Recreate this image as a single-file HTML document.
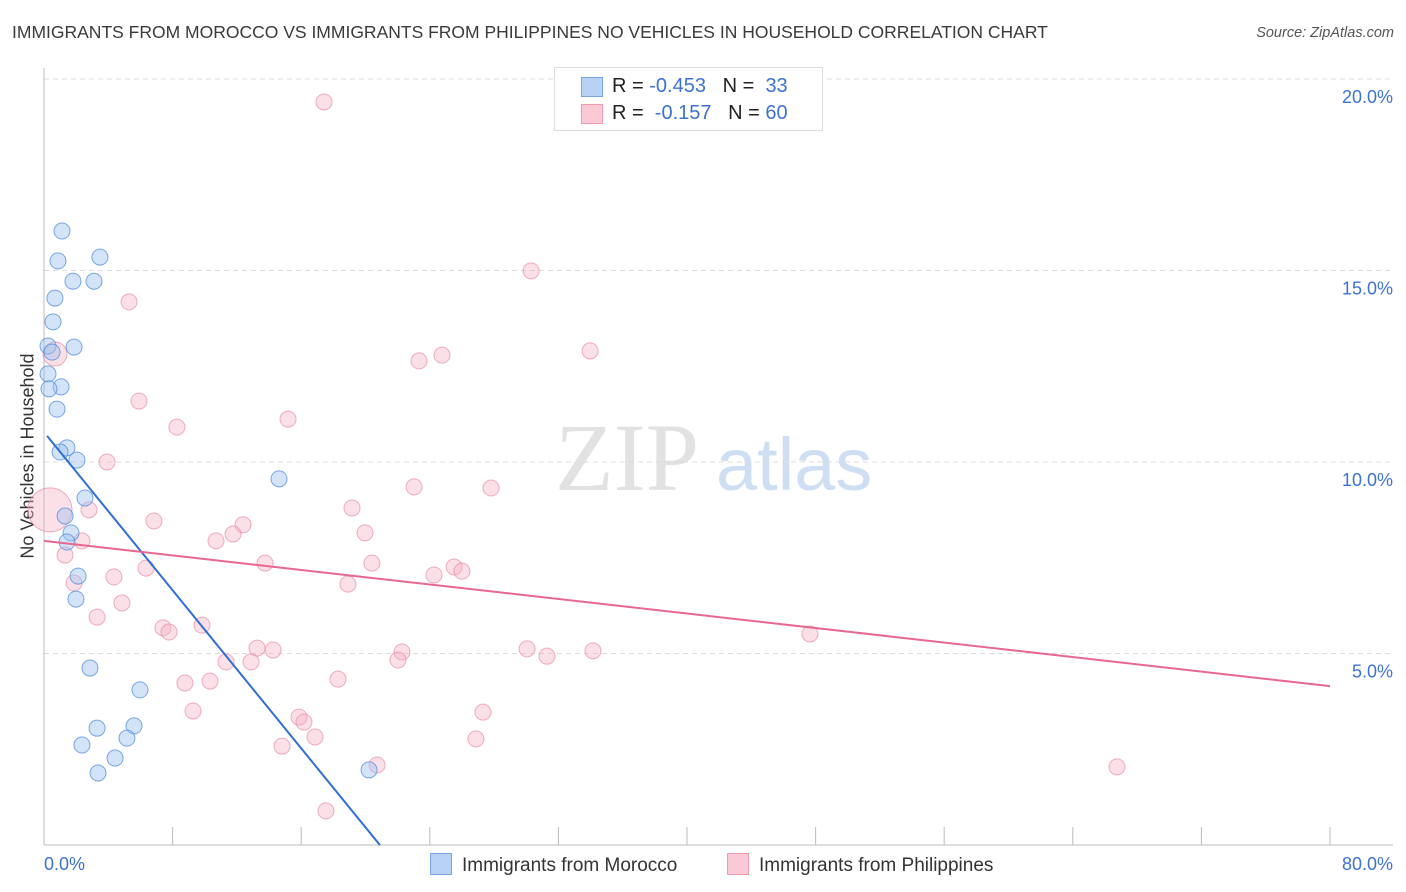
<!DOCTYPE html>
<html><head><meta charset="utf-8">
<style>
body{margin:0;background:#fff;font-family:"Liberation Sans",sans-serif;}
#wrap{position:relative;width:1406px;height:892px;overflow:hidden;}
.t{position:absolute;white-space:nowrap;}
</style></head>
<body>
<div id="wrap">
<div class="t" style="left:12px;top:22px;font-size:17.5px;color:#3a3a3a;">IMMIGRANTS FROM MOROCCO VS IMMIGRANTS FROM PHILIPPINES NO VEHICLES IN HOUSEHOLD CORRELATION CHART</div>
<div class="t" style="right:12px;top:25px;font-size:14.5px;color:#555;font-style:italic;">Source: ZipAtlas.com</div>
<div class="t" style="left:28px;top:456px;font-size:18px;color:#333;transform:translate(-50%,-50%) rotate(-90deg);">No Vehicles in Household</div>
<svg id="plot" width="1406" height="892" style="position:absolute;left:0;top:0"></svg>
<div class="t" style="left:554px;top:67px;width:267px;height:62px;border:1px solid #ddd;background:#fff;font-size:20px;color:#222;">
  <div style="position:absolute;left:26px;top:9px;width:20px;height:18px;background:#b7d2f5;border:1px solid #79a6e4;"></div>
  <div class="t" style="left:57px;top:7px;">R = <span style="color:#3d72d1">-0.453</span>&nbsp;&nbsp;&nbsp;N = &nbsp;<span style="color:#3d72d1">33</span></div>
  <div style="position:absolute;left:26px;top:36px;width:20px;height:18px;background:#f9c9d6;border:1px solid #ef9ab3;"></div>
  <div class="t" style="left:57px;top:34px;">R = &nbsp;<span style="color:#3d72d1">-0.157</span>&nbsp;&nbsp;&nbsp;N = <span style="color:#3d72d1">60</span></div>
</div>
<div class="t" style="left:430px;top:853px;font-size:19px;color:#333;"><span style="display:inline-block;width:20px;height:20px;background:#b7d2f5;border:1px solid #79a6e4;vertical-align:-4px;margin-right:10px;"></span>Immigrants from Morocco</div>
<div class="t" style="left:727px;top:853px;font-size:19px;color:#333;"><span style="display:inline-block;width:20px;height:20px;background:#f9c9d6;border:1px solid #ef9ab3;vertical-align:-4px;margin-right:10px;"></span>Immigrants from Philippines</div>
</div>
<script>
const xTickLabels=["0.0%","80.0%"];
const yTicks=[5,10,15,20];
const yTickLabels=["5.0%","10.0%","15.0%","20.0%"];
const moroccoX=[1.12,0.87,3.48,1.80,3.11,0.68,0.56,0.25,1.87,0.50,0.25,1.06,0.31,0.81,1.43,1.00,2.05,14.62,2.55,1.31,1.68,1.43,2.12,1.99,2.86,5.97,3.30,5.60,2.36,5.16,4.42,3.36,20.22];
const moroccoY=[16.03,15.25,15.35,14.72,14.72,14.28,13.66,13.03,13.00,12.87,12.30,11.96,11.91,11.38,10.37,10.26,10.05,9.56,9.06,8.59,8.15,7.91,7.02,6.42,4.62,4.05,3.05,3.11,2.61,2.79,2.27,1.88,1.96];
const philX=[17.42,30.30,5.29,33.97,0.68,23.33,24.76,5.91,8.27,15.18,3.92,23.02,27.81,0.37,2.80,6.84,19.16,12.38,11.76,19.97,10.70,2.36,1.31,13.75,6.35,20.40,4.35,25.51,26.00,24.26,1.87,18.91,4.85,3.30,9.83,7.40,7.78,47.65,13.25,14.25,22.27,30.05,34.15,31.29,22.02,11.32,12.88,18.29,8.77,10.33,9.27,15.86,16.17,27.31,16.86,14.81,26.87,20.72,66.75,17.54];
const philY=[19.40,14.99,14.18,12.90,12.82,12.64,12.79,11.59,10.91,11.12,10.00,9.35,9.32,8.75,8.75,8.46,8.80,8.36,8.12,8.15,7.94,7.94,7.57,7.36,7.23,7.36,7.00,7.26,7.15,7.05,6.84,6.81,6.32,5.95,5.74,5.67,5.56,5.51,5.14,5.09,5.04,5.12,5.07,4.93,4.83,4.78,4.78,4.33,4.23,4.28,3.50,3.34,3.21,3.47,2.82,2.58,2.77,2.09,2.04,0.89];
const philR=[8,8,8,8,12,8,8,8,8,8,8,8,8,22,8,8,8,8,8,8,8,8,8,8,8,8,8,8,8,8,8,8,8,8,8,8,8,8,8,8,8,8,8,8,8,8,8,8,8,8,8,8,8,8,8,8,8,8,8,8];
const moroccoTrend=[10.78,-0.516,0.19,20.9];
const philTrend=[7.94,-0.0474,0,80];

const X=v=>44+v*16.075, Y=v=>845-v*38.3;
const svg=document.getElementById('plot'), NS='http://www.w3.org/2000/svg';
function mk(tag,a){const e=document.createElementNS(NS,tag);for(const k in a)e.setAttribute(k,a[k]);svg.appendChild(e);return e;}
// watermark
let w=mk('text',{x:555,y:490,'font-size':96,'font-family':'Liberation Serif,serif',fill:'#e2e2e2'});w.textContent='ZIP';


let w2=mk('text',{x:716,y:490,'font-size':74,'font-family':'Liberation Sans,sans-serif',fill:'#cfdff3'});w2.textContent='atlas';


yTicks.forEach((t,i)=>{
  const g=mk('line',{x1:44,x2:1393,y1:Y(t),y2:Y(t),stroke:'#dcdcdc','stroke-dasharray':'5,4'});
  
  
  const l=mk('text',{x:1393,y:Y(t)+24,'text-anchor':'end','font-size':18,fill:'#3d72d1'});l.textContent=yTickLabels[i];
  
  
});
const ax=mk('line',{x1:44,x2:44,y1:68,y2:845,stroke:'#bbb'});


const bx=mk('line',{x1:44,x2:1393,y1:845,y2:845,stroke:'#bbb'});


for(let k=1;k<=10;k++){
  const tk=mk('line',{x1:X(k*8),x2:X(k*8),y1:827,y2:845,stroke:'#bbb'});
  
  
}
const xl0=mk('text',{x:44,y:870,'font-size':18,fill:'#3d72d1'});xl0.textContent=xTickLabels[0];


const xl1=mk('text',{x:1393,y:870,'font-size':18,fill:'#3d72d1','text-anchor':'end'});xl1.textContent=xTickLabels[1];


philX.forEach((v,i)=>{
  const c=mk('circle',{cx:X(v),cy:Y(philY[i]),r:philR[i],fill:'rgba(246,178,198,0.4)',stroke:'rgba(234,140,168,0.7)','stroke-width':1});
  
  
});
moroccoX.forEach((v,i)=>{
  const c=mk('circle',{cx:X(v),cy:Y(moroccoY[i]),r:8,fill:'rgba(160,196,240,0.45)',stroke:'rgba(80,140,220,0.75)','stroke-width':1});
  
  
});
const tm=mk('line',{x1:X(moroccoTrend[2]),y1:Y(moroccoTrend[0]+moroccoTrend[1]*moroccoTrend[2]),x2:X(moroccoTrend[3]),y2:Y(moroccoTrend[0]+moroccoTrend[1]*moroccoTrend[3]),stroke:'#2f6fd3','stroke-width':2});


const tp=mk('line',{x1:X(philTrend[2]),y1:Y(philTrend[0]+philTrend[1]*philTrend[2]),x2:X(philTrend[3]),y2:Y(philTrend[0]+philTrend[1]*philTrend[3]),stroke:'#e8678f','stroke-width':2});


</script>
</body></html>
